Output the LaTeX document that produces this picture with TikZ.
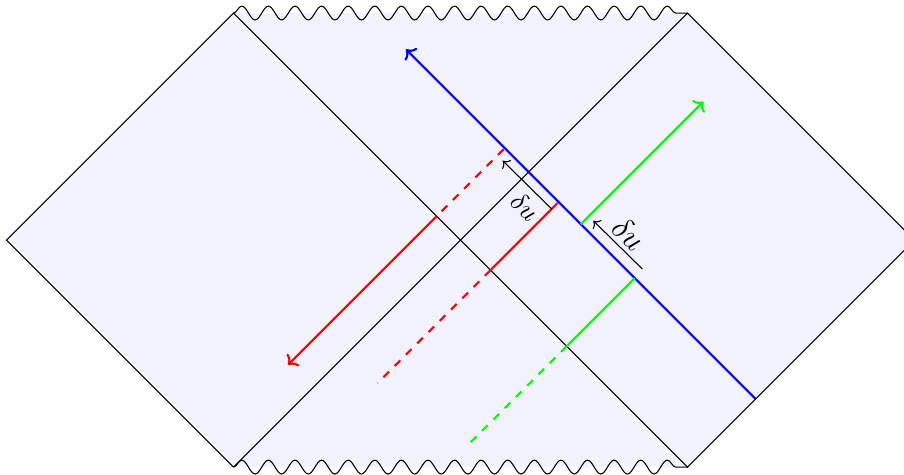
\documentclass[tikz,border=0pt]{standalone}
\usepackage{amsmath}
\usepackage{tikz}
\usetikzlibrary{decorations.pathmorphing,arrows.meta}

\begin{document}
\begin{tikzpicture}[
    x=1.5cm, y=1.5cm,
    sing/.style={decorate, decoration={snake, segment length=10pt, amplitude=2.6pt}},
    ray/.style={thick, >={To[length=3pt, width=6.5pt]}},
    ghost/.style={thick, dashed},
    delta/.style={->, >={To[length=2.2pt, width=4.6pt]}},
    lbl/.style={rotate=-45, inner sep=1pt}]
  \useasboundingbox (-4.057,-2.062) rectangle (3.907,2.115);
  % corners of the diagram
  \coordinate (L) at (-4,0);
  \coordinate (R) at (4,0);
  \coordinate (TL) at (-2,2);
  \coordinate (TR) at (2,2);
  \coordinate (BL) at (-2,-2);
  \coordinate (BR) at (2,-2);
  \fill[blue!5] (L) -- (TL) -- (TR) -- (R) -- (BR) -- (BL) -- cycle;
  \draw (BL) -- (L) -- (TL) -- (BR) -- (R) -- (TR) -- (BL);
  \draw[sing] (TL) -- (TR);
  \draw[sing] (BL) -- (BR);
  % shock wave
  \coordinate (b0) at (2.6,-1.4);
  \coordinate (b1) at (-0.48,1.68);
  % green rays
  \coordinate (g0) at (1.535,-0.335);
  \coordinate (g1) at (0.935,-0.935);
  \coordinate (g2) at (0.07,-1.8);
  \coordinate (g3) at (1.06,0.14);
  \coordinate (g4) at (2.14,1.22);
  % red rays
  \coordinate (r0) at (0.855,0.325);
  \coordinate (r1) at (0.265,-0.265);
  \coordinate (r2) at (-0.73,-1.26);
  \coordinate (r3) at (0.38,0.80);
  \coordinate (r4) at (-0.21,0.21);
  \coordinate (r5) at (-1.52,-1.10);
  \draw[ray, blue, ->] (b0) -- (b1);
  \draw[ray, green] (g0) -- (g1);
  \draw[ghost, green] (g1) -- (g2);
  \draw[ray, green, ->] (g3) -- (g4);
  \draw[ray, red] (r0) -- (r1);
  \draw[ghost, red] (r1) -- (r2);
  \draw[ghost, red] (r3) -- (r4);
  \draw[ray, red, ->] (r4) -- (r5);
  % shifts
  \coordinate (d0) at (0.804,0.273);
  \coordinate (d1) at (0.372,0.699);
  \coordinate (e0) at (1.602,-0.255);
  \coordinate (e1) at (1.170,0.170);
  \draw[delta] (d0) -- (d1);
  \draw[delta] (e0) -- (e1);
  \node[lbl] (shiftA) at (0.568,0.293) {$\delta u$};
  \node[lbl, font=\large] (shiftB) at (1.485,0.053) {$\delta u$};
\end{tikzpicture}
\end{document}
